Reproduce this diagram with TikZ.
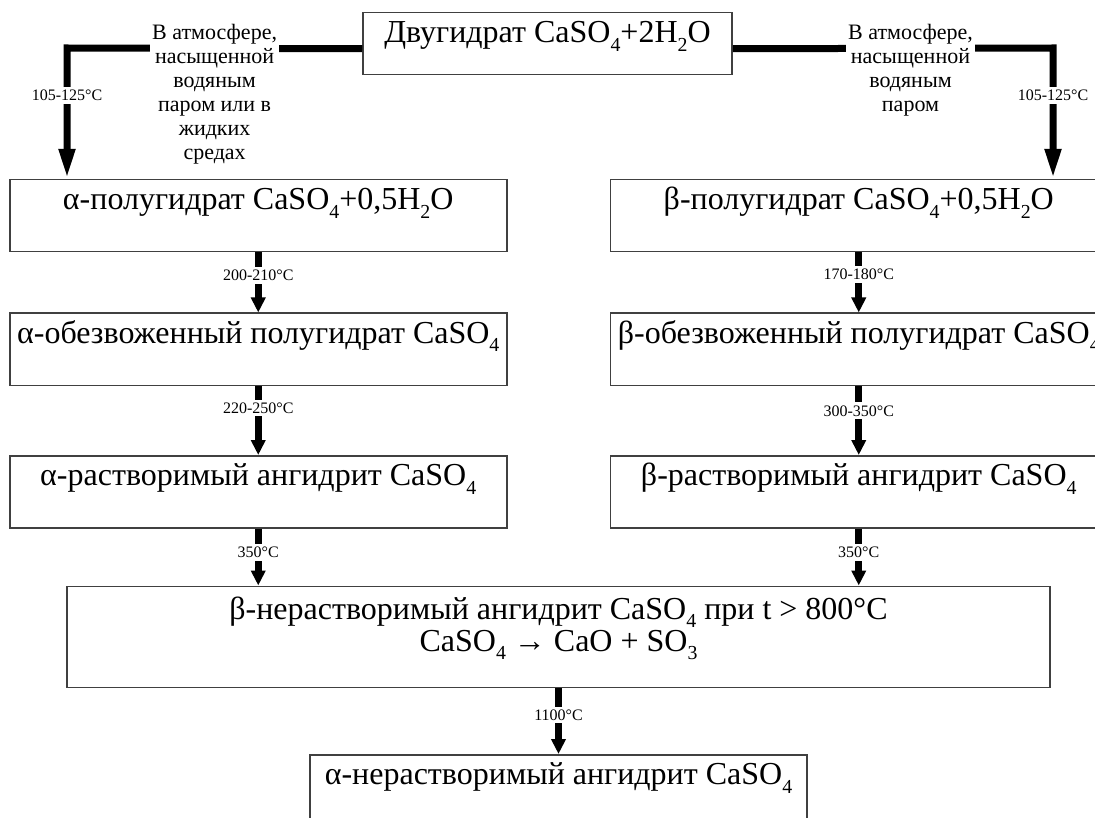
\documentclass[tikz,border=0pt]{standalone}
\usepackage{fontspec}
\usepackage{graphicx}
\setmainfont{Liberation Serif}
\usetikzlibrary{arrows.meta, positioning, calc}

\newcommand{\idx}[1]{\raisebox{-0.27em}{\scalebox{0.62}{#1}}}
\newcommand{\caso}{CaSO\idx{4}}

\begin{document}
\begin{tikzpicture}[x=1pt, y=-1pt]
    \tikzstyle{stage} = [rectangle, draw=black!75, line width=1.5pt, inner sep=0pt, minimum width=497pt, text height=30pt, text depth=42pt, text centered, font=\fontsize{32}{32}\selectfont]
    \tikzstyle{arrow} = [line width=7pt, -{Triangle[length=15pt, width=14pt]}]
    \tikzstyle{feed} = [line width=7pt, -{Triangle[length=30pt, width=15pt]}]
    \tikzstyle{temp} = [fill=white, inner sep=3pt, font=\fontsize{16}{18}\selectfont]
    \tikzstyle{medium} = [fill=white, inner sep=2pt, align=center, anchor=north, yshift=30pt, font=\fontsize{22}{24}\selectfont]

    \useasboundingbox (0,0) rectangle (1095,818);
    \clip (0,0) rectangle (1095,818);

    \node (top) [stage, minimum width=369pt, text depth=32pt, anchor=north] at (547.5,12) {Двугидрат \caso+2H\idx{2}O};
    \node (a1) [stage, anchor=north west] at (9,179) {α-полугидрат \caso+0,5H\idx{2}O};
    \node (b1) [stage, right=102pt of a1] {β-полугидрат \caso+0,5H\idx{2}O};
    \node (a2) [stage, below=60pt of a1] {α-обезвоженный полугидрат \caso};
    \node (b2) [stage, below=60pt of b1] {β-обезвоженный полугидрат \caso};
    \node (a3) [stage, below=69pt of a2] {α-растворимый ангидрит \caso};
    \node (b3) [stage, below=69pt of b2] {β-растворимый ангидрит \caso};
    \node (big) [stage, minimum width=983pt, text height=65pt, text depth=36pt, align=center, anchor=north] at ($(a3.south)!0.5!(b3.south) + (0,57)$) {β-нерастворимый ангидрит \caso\ при t > 800°C\\ \caso\ → CaO + SO\idx{3}};
    \node (last) [stage, below=66pt of big] {α-нерастворимый ангидрит \caso};

    \coordinate (lc) at (67,48);
    \coordinate (rc) at (1053,48);

    \draw [feed] ([yshift=-5pt]top.west) -- node[medium] {В атмосфере,\\насыщенной\\водяным\\паром или в\\жидких\\средах} (lc) -- node[temp, pos=0.36] {105-125°C} (lc |- a1.north);
    \draw [feed] ([yshift=-5pt]top.east) -- node[medium, pos=0.555] {В атмосфере,\\насыщенной\\водяным\\паром} (rc) -- node[temp, pos=0.36] {105-125°C} (rc |- b1.north);
    \draw [arrow] (a1) -- node[temp, pos=0.38] {200-210°C} (a2);
    \draw [arrow] (a2) -- node[temp, pos=0.32] {220-250°C} (a3);
    \draw [arrow] (b1) -- node[temp, pos=0.37] {170-180°C} (b2);
    \draw [arrow] (b2) -- node[temp, pos=0.36] {300-350°C} (b3);
    \draw [arrow] (a3) -- node[temp, pos=0.42] {350°C} (a3 |- big.north);
    \draw [arrow] (b3) -- node[temp, pos=0.42] {350°C} (b3 |- big.north);
    \draw [arrow] (big) -- node[temp, pos=0.41] {1100°C} (last);
\end{tikzpicture}
\end{document}
